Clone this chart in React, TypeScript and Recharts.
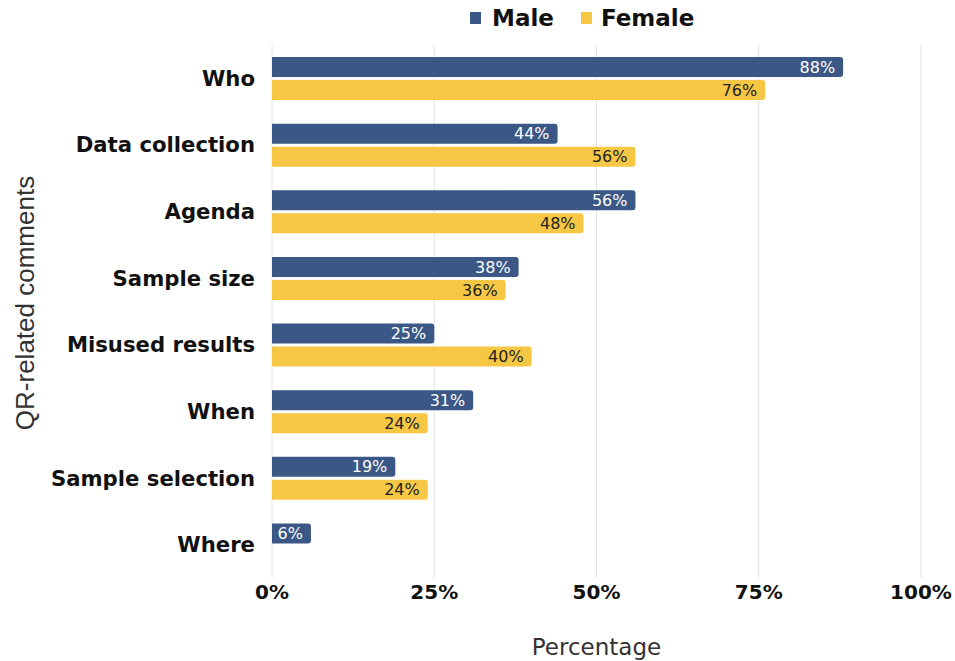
import React from 'react';
import { BarChart, Bar, XAxis, YAxis, CartesianGrid, LabelList } from 'recharts';

const categories = ['Who', 'Data collection', 'Agenda', 'Sample size', 'Misused results', 'When', 'Sample selection', 'Where'];
const maleValues = [88, 44, 56, 38, 25, 31, 19, 6];
const femaleValues: (number | null)[] = [76, 56, 48, 36, 40, 24, 24, null];
const xTicks = [0, 25, 50, 75, 100];

const MALE = '#3a5785';
const FEMALE = '#f6c744';
const FONT = '"DejaVu Sans", sans-serif';

const data = categories.map((c, i) => ({ name: c, male: maleValues[i], female: femaleValues[i] }));

const fmt = (v: any) => (v === null || v === undefined ? '' : `${v}%`);

const YLabel = () => (
  <text
    x={25}
    y={303}
    transform="rotate(-90 25 303)"
    textAnchor="middle"
    dominantBaseline="central"
    fontFamily='"Liberation Sans", Arial, sans-serif'
    fontSize={26}
    fill="#333"
  >
    QR-related comments
  </text>
);

export default function App() {
  return (
    <div style={{ position: 'absolute', left: 0, top: 0, width: 955, height: 661, background: '#fff' }}>
      <div
        style={{
          position: 'absolute',
          left: 470,
          top: 5,
          display: 'flex',
          alignItems: 'center',
          fontFamily: FONT,
          fontWeight: 700,
          fontSize: 23,
          color: '#111',
          zIndex: 2,
          whiteSpace: 'nowrap',
        }}
      >
        <span style={{ display: 'inline-block', width: 11, height: 12, background: MALE, marginRight: 11 }} />
        <span>Male</span>
        <span style={{ display: 'inline-block', width: 11, height: 12, background: FEMALE, marginLeft: 27, marginRight: 9 }} />
        <span>Female</span>
      </div>
      <BarChart
        width={955}
        height={661}
        data={data}
        layout="vertical"
        margin={{ top: 45, right: 34, bottom: 0, left: 0 }}
        barCategoryGap="17%"
        barGap={3}
      >
        <CartesianGrid horizontal={false} stroke="#e2e2e2" />
        <XAxis
          type="number"
          domain={[0, 100]}
          ticks={xTicks}
          tickFormatter={(v) => `${v}%`}
          axisLine={false}
          tickLine={false}
          tickSize={0}
          tickMargin={7}
          height={83}
          tick={{ fontFamily: FONT, fontWeight: 700, fontSize: 20, fill: '#111' }}
          label={{
            value: 'Percentage',
            position: 'insideBottom',
            offset: 6,
            style: { fontFamily: FONT, fontSize: 23, fill: '#333' },
          }}
        />
        <YAxis
          type="category"
          dataKey="name"
          width={272}
          axisLine={false}
          tickLine={false}
          tickSize={0}
          tickMargin={17}
          tick={{ fontFamily: FONT, fontWeight: 700, fontSize: 21.2, fill: '#111' }}
          label={<YLabel />}
        />
        <Bar dataKey="male" fill={MALE} barSize={20} radius={[0, 3, 3, 0]} isAnimationActive={false}>
          <LabelList
            dataKey="male"
            position="insideRight"
            offset={8}
            formatter={fmt}
            style={{ fontFamily: FONT, fontSize: 16, fill: '#fff' }}
          />
        </Bar>
        <Bar dataKey="female" fill={FEMALE} barSize={20} radius={[0, 3, 3, 0]} isAnimationActive={false}>
          <LabelList
            dataKey="female"
            position="insideRight"
            offset={8}
            formatter={fmt}
            style={{ fontFamily: FONT, fontSize: 16, fill: '#222' }}
          />
        </Bar>
      </BarChart>
    </div>
  );
}
